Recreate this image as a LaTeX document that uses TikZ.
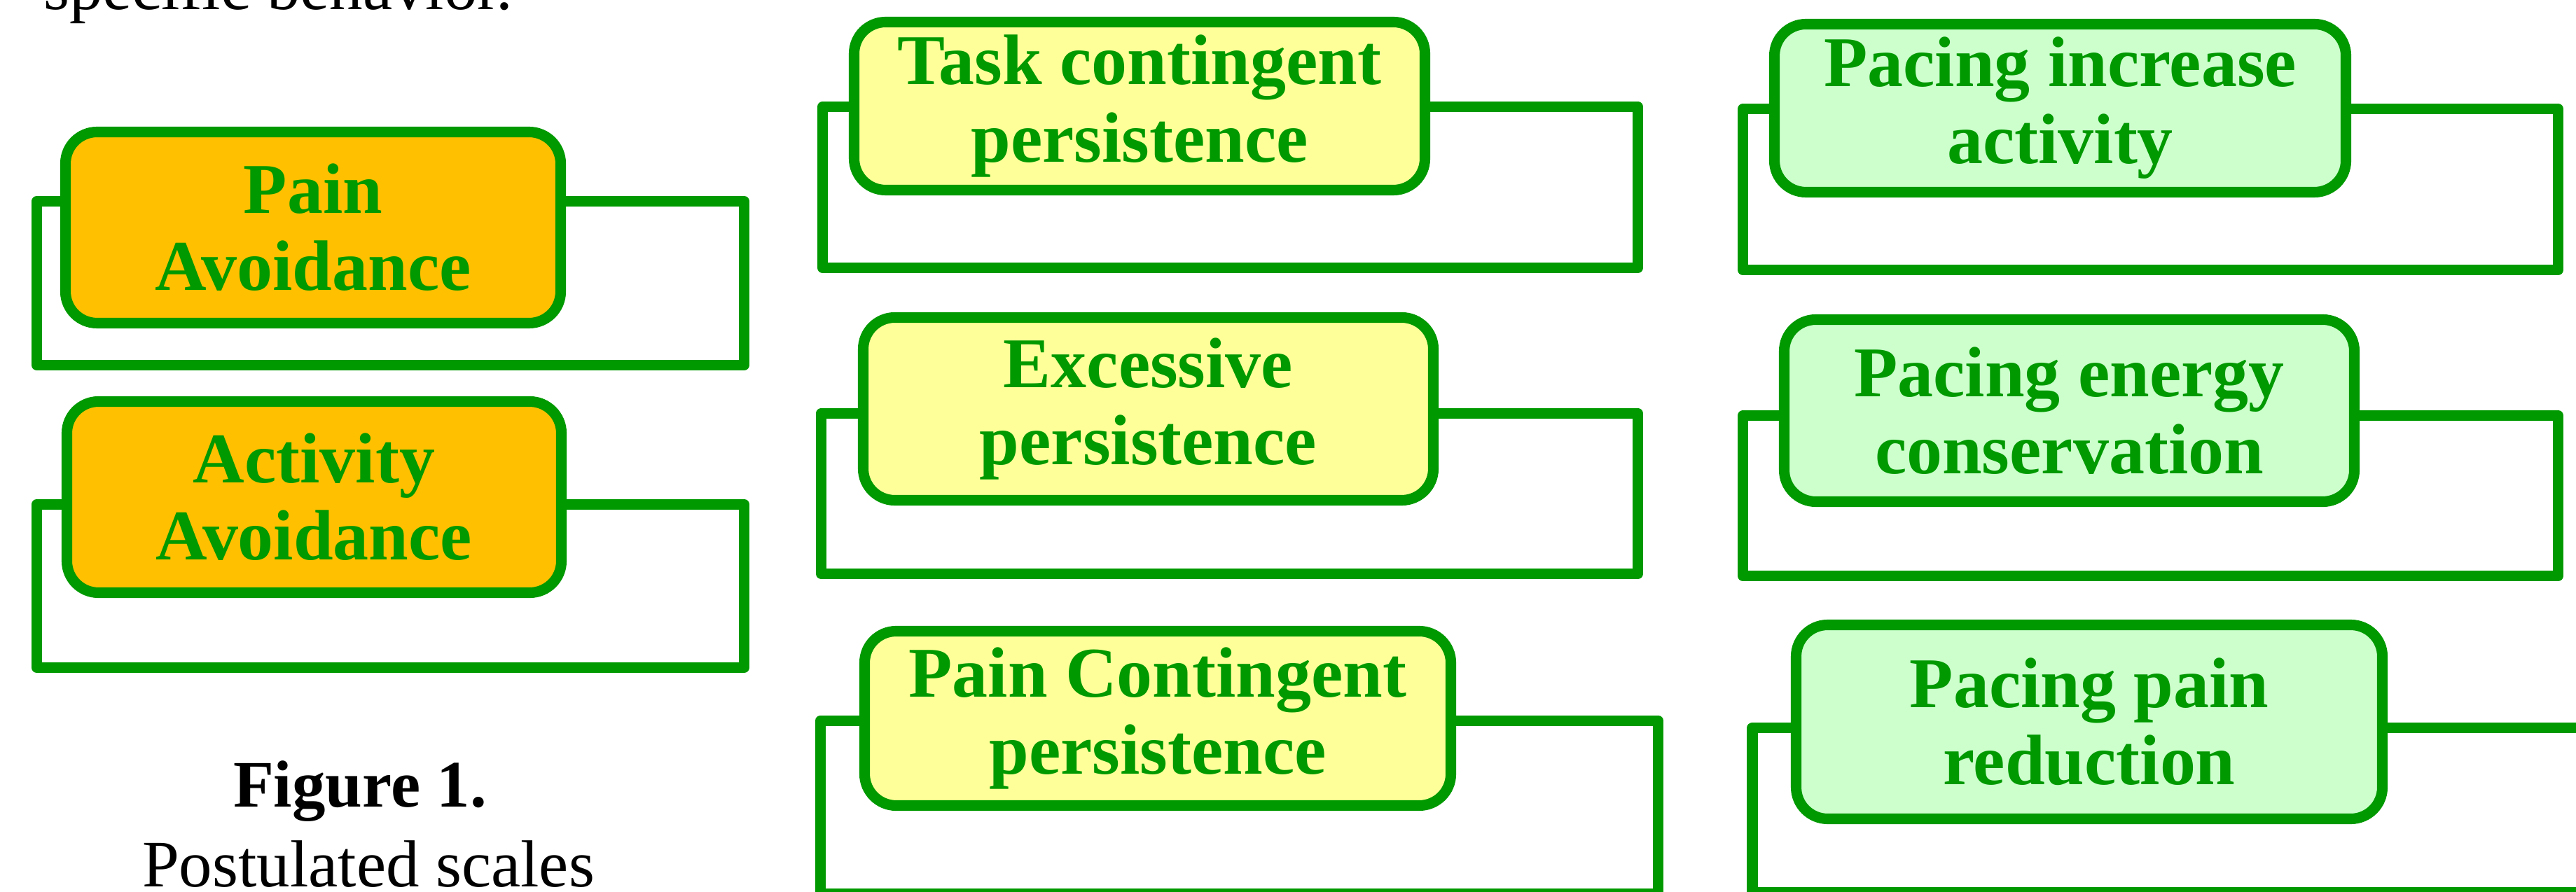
\documentclass[tikz,border=0pt]{standalone}
\usepackage{fontspec}
\setmainfont{Liberation Serif}
\usetikzlibrary{positioning}
\definecolor{sGreen}{HTML}{009900}
\definecolor{sOrange}{HTML}{FFC000}
\definecolor{sYellow}{HTML}{FFFF99}
\definecolor{sMint}{HTML}{CCFFCC}

\tikzset{
  framebox/.style={draw=sGreen, line width=4.3pt, line join=round, inner sep=0pt},
  scalebox/.style={draw=sGreen, line width=4.3pt, rounded corners=0.45cm, inner sep=0pt,
    align=center, text=sGreen, font=\fontsize{29}{31.3}\selectfont\bfseries},
  capt/.style={anchor=base, inner sep=0pt, font=\fontsize{27}{32}\selectfont}
}

\begin{document}
\begin{tikzpicture}
  \clip (0,0) rectangle (36.78,-12.74);
  \fill[white] (0,0) rectangle (36.78,-12.74);

  \node[capt] (intro) at (3.97,-0.14) {specific behavior.};

  % avoidance
  \begin{scope}
    \node[framebox, minimum width=10.10cm, minimum height=2.34cm] (painframe) at (5.575,-4.045) {};
    \node[scalebox, fill=sOrange, minimum width=7.07cm, minimum height=2.73cm] (pain) at (4.47,-3.25) {Pain\\Avoidance};
    \node[framebox, minimum width=10.10cm, minimum height=2.33cm] (actframe) at (5.575,-8.37) {};
    \node[scalebox, fill=sOrange, minimum width=7.06cm, minimum height=2.73cm] (act) at (4.485,-7.10) {Activity\\Avoidance};
  \end{scope}

  \node[capt, font=\fontsize{27}{32}\selectfont\bfseries] (fignum) at (5.14,-11.52) {Figure 1.};
  \node[capt] (figtitle) at (5.26,-12.66) {Postulated scales};

  % persistence
  \begin{scope}
    \node[framebox, minimum width=11.64cm, minimum height=2.30cm] (taskframe) at (17.565,-2.675) {};
    \node[scalebox, fill=sYellow, minimum width=8.15cm, minimum height=2.40cm] (task) at (16.27,-1.515) {Task contingent\\persistence};
    \node[framebox, minimum width=11.66cm, minimum height=2.29cm] (excframe) at (17.555,-7.05) {};
    \node[scalebox, fill=sYellow, minimum width=8.14cm, minimum height=2.61cm] (exc) at (16.395,-5.84) {Excessive\\persistence};
    \node[framebox, minimum width=11.96cm, minimum height=2.475cm] (pconframe) at (17.695,-11.53) {};
    \node[scalebox, fill=sYellow, minimum width=8.37cm, minimum height=2.49cm] (pcon) at (16.53,-10.26) {Pain Contingent\\persistence};
  \end{scope}

  % pacing
  \begin{scope}
    \node[framebox, minimum width=11.64cm, minimum height=2.30cm] (incframe) at (30.705,-2.705) {};
    \node[scalebox, fill=sMint, minimum width=8.16cm, minimum height=2.40cm] (inc) at (29.415,-1.545) {Pacing increase\\activity};
    \node[framebox, minimum width=11.64cm, minimum height=2.29cm] (engframe) at (30.705,-7.08) {};
    \node[scalebox, fill=sMint, minimum width=8.14cm, minimum height=2.60cm] (eng) at (29.545,-5.865) {Pacing energy\\conservation};
    \node[framebox, minimum width=12.5cm, minimum height=2.35cm] (redframe) at (31.27,-11.57) {};
    \node[scalebox, fill=sMint, minimum width=8.37cm, minimum height=2.77cm] (red) at (29.83,-10.31) {Pacing pain\\reduction};
  \end{scope}

\end{tikzpicture}
\end{document}
